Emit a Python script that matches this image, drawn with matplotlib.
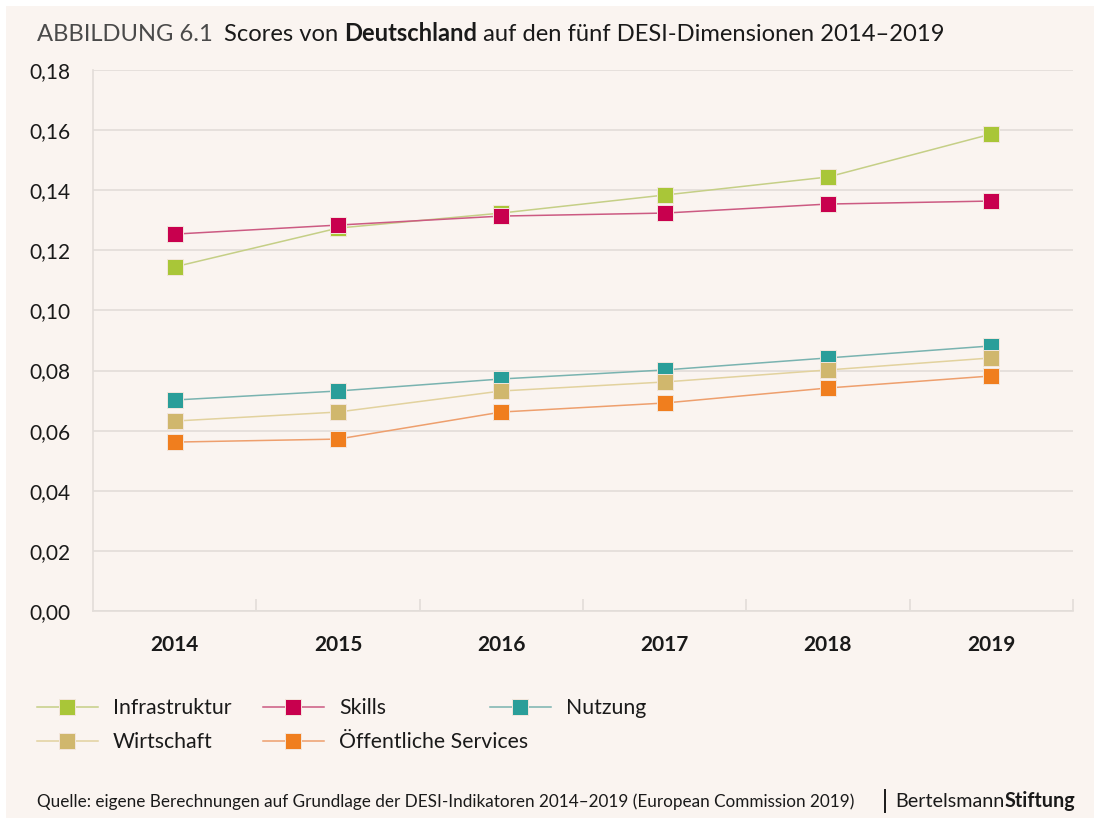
import matplotlib
matplotlib.use("Agg")
import matplotlib.pyplot as plt
from matplotlib.lines import Line2D
from matplotlib.patches import Rectangle
from matplotlib.ticker import FixedLocator, FuncFormatter

years = ["2014", "2015", "2016", "2017", "2018", "2019"]
infrastruktur = [0.1145, 0.1274, 0.1324, 0.1384, 0.1444, 0.1587]
skills = [0.1254, 0.1284, 0.1314, 0.1324, 0.1354, 0.1364]
nutzung = [0.0702, 0.0732, 0.0772, 0.0802, 0.0842, 0.0882]
wirtschaft = [0.0632, 0.0662, 0.0732, 0.0762, 0.0802, 0.0842]
oeffentlich = [0.0562, 0.0572, 0.0662, 0.0692, 0.0742, 0.0782]
yticks = [0.00, 0.02, 0.04, 0.06, 0.08, 0.10, 0.12, 0.14, 0.16, 0.18]

series = [
    ("Infrastruktur", infrastruktur, "#a9c638", "#c5cf86"),
    ("Skills", skills, "#c8004e", "#cc5a82"),
    ("Nutzung", nutzung, "#2a9e99", "#79b3b0"),
    ("Wirtschaft", wirtschaft, "#d0b76d", "#e2d29e"),
    ("Öffentliche Services", oeffentlich, "#f07e1e", "#ee9f6d"),
]

BG = "#faf4f0"
GRID = "#e2ddd9"
FONT = ["Lato", "DejaVu Sans"]
plt.rcParams["font.family"] = FONT

W, H = 1094, 818
fig = plt.figure(figsize=(W / 100, H / 100), dpi=100, facecolor="white")
fig.patches.append(Rectangle((6 / W, 0), 1 - 6 / W, 1 - 6 / H, transform=fig.transFigure,
                             facecolor=BG, edgecolor="none", zorder=-10))

ax = fig.add_axes([93 / W, 1 - 611 / H, (1073 - 93) / W, (611 - 70) / H])
ax.set_facecolor(BG)
x = list(range(len(years)))
for name, vals, mc, lc in series:
    ax.plot(x, vals, color=lc, lw=1.1, zorder=2)
    ax.plot(x, vals, ls="none", marker="s", ms=11.5, mfc=mc, mec="#f3e6dc", mew=0.7, zorder=3)

ax.set_xlim(-0.5, 5.5)
ax.set_ylim(0, 0.18)
ax.set_xticks(x)
ax.set_xticklabels(years, fontsize=15, fontweight="bold", color="#1a1a1a")
ax.xaxis.set_minor_locator(FixedLocator([0.5, 1.5, 2.5, 3.5, 4.5, 5.5]))
ax.tick_params(axis="x", which="major", length=0, pad=17)
ax.tick_params(axis="x", which="minor", direction="in", length=8.5, width=1.2, color=GRID)
ax.set_yticks(yticks)
ax.yaxis.set_major_formatter(FuncFormatter(lambda v, p: f"{v:.2f}".replace(".", ",")))
ax.tick_params(axis="y", length=0, pad=16, labelsize=15, labelcolor="#1a1a1a")
ax.grid(axis="y", color=GRID, lw=1.2, zorder=0)
ax.set_axisbelow(True)
for s in ["top", "right"]:
    ax.spines[s].set_visible(False)
for s in ["left", "bottom"]:
    ax.spines[s].set_color(GRID)
    ax.spines[s].set_linewidth(1.2)

legend_pos = {
    "Infrastruktur": (37, 708),
    "Skills": (263, 708),
    "Nutzung": (490, 708),
    "Wirtschaft": (37, 742),
    "Öffentliche Services": (263, 742),
}
for name, vals, mc, lc in series:
    px, py = legend_pos[name]
    h = Line2D([], [], color=lc, lw=1.1, marker="s", ms=11.5, mfc=mc, mec="#f3e6dc", mew=0.7)
    fig.legend([h], [name], loc="center left", bbox_to_anchor=(px / W, 1 - py / H),
               frameon=False, fontsize=15.3, handlelength=2.85, handletextpad=0.72,
               borderpad=0, borderaxespad=0, labelcolor="#1a1a1a")

fig.canvas.draw()
renderer = fig.canvas.get_renderer()


def pieces(x0, y0, parts, size):
    cur = x0
    for txt, weight, col, gap in parts:
        cur += gap
        t = fig.text(cur / W, 1 - y0 / H, txt, fontsize=size, fontweight=weight,
                     va="baseline", ha="left", color=col)
        bb = t.get_window_extent(renderer=renderer)
        cur = bb.x1
    return cur


pieces(37, 41, [("ABBILDUNG 6.1", "normal", "#4a4a4a", 0),
                ("Scores von ", "normal", "#1a1a1a", 11),
                ("Deutschland", "bold", "#1a1a1a", 0),
                (" auf den fünf DESI-Dimensionen 2014–2019", "normal", "#1a1a1a", 0)], 17.1)

fig.text(37 / W, 1 - 807 / H,
         "Quelle: eigene Berechnungen auf Grundlage der DESI-Indikatoren 2014–2019 (European Commission 2019)",
         fontsize=12.35, color="#1a1a1a", va="baseline", ha="left")
fig.add_artist(Line2D([885 / W, 885 / W], [1 - 790 / H, 1 - 812 / H], color="#1a1a1a", lw=1.4,
                      transform=fig.transFigure))
pieces(895, 807, [("Bertelsmann", "normal", "#1a1a1a", 0), ("Stiftung", "bold", "#1a1a1a", 0)], 14.2)

fig.savefig("out.png", dpi=100, facecolor="white")
